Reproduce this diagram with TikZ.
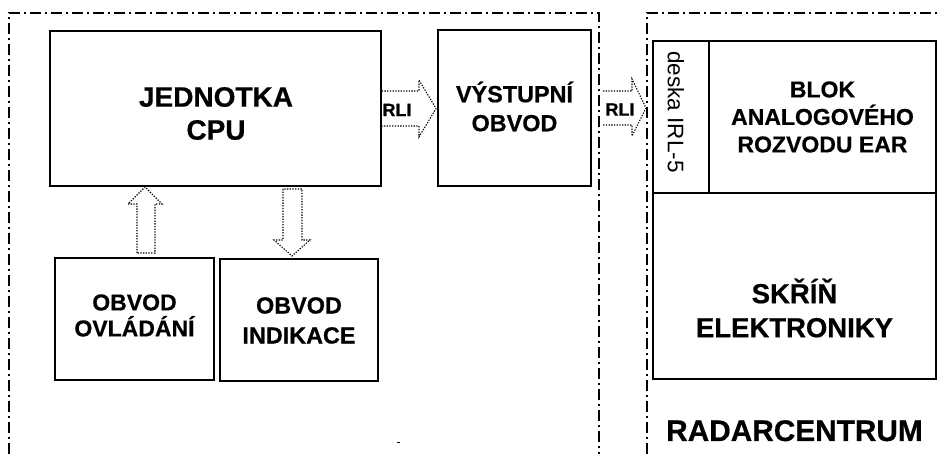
\documentclass[tikz,border=0pt]{standalone}
\usepackage{fontspec}
\setmainfont{Liberation Sans}[BoldFeatures={FakeBold=0.6}]
\usetikzlibrary{calc}
\begin{document}
\begin{tikzpicture}[x=1pt,y=-1pt,
  box/.style={draw, line width=1.5pt, inner sep=0pt},
  frameline/.style={line width=1.6pt, dash pattern=on 11pt off 4pt on 2pt off 4pt},
  barrow/.style={line width=1.1pt, dash pattern=on 1.3pt off 1.4pt, line join=miter},
  lbl/.style={inner sep=0pt, align=center}]
\useasboundingbox (0,0) rectangle (938,454);
\fill[white] (0,0) rectangle (938,454);

% frames
\draw[frameline] (9,454) -- (9,13) -- (599,13) -- (599,454);
\draw[frameline] (647,454) -- (647,13) -- (938,13);

% boxes
\node[box, minimum width=331pt, minimum height=155pt] (cpu) at (215.5,108.5) {};
\node[lbl, font=\fontsize{28}{33}\selectfont\bfseries] (cput) at (216,113.5) {JEDNOTKA\\CPU};

\node[box, minimum width=153pt, minimum height=156pt] (out) at (514.5,108) {};
\node[lbl, font=\fontsize{23.4}{29}\selectfont\bfseries] (outt) at (514.5,106.5) {VÝSTUPNÍ\\OBVOD};

\node[box, minimum width=159pt, minimum height=122pt] (ovl) at (134.5,319) {};
\node[lbl, font=\fontsize{23}{26}\selectfont\bfseries] (ovlt) at (134.5,315.5) {OBVOD\\OVLÁDÁNÍ};

\node[box, minimum width=158pt, minimum height=122pt] (ind) at (299,320) {};
\node[lbl, font=\fontsize{23.4}{30}\selectfont\bfseries] (indt) at (299,320.5) {OBVOD\\INDIKACE};

\node[box, minimum width=56pt, minimum height=152pt] (deska) at (681,117) {};
\node[lbl, rotate=-90, font=\fontsize{22.5}{26}\selectfont] (deskat) at (676,112) {deska IRL-5};

\node[box, minimum width=227pt, minimum height=152pt] (blok) at (822.5,117) {};
\node[lbl, font=\fontsize{23}{27.5}\selectfont\bfseries] (blokt) at (822.5,117) {BLOK\\ANALOGOVÉHO\\ROZVODU EAR};

\node[box, minimum width=283pt, minimum height=186pt] (skrin) at (794.5,286) {};
\node[lbl, font=\fontsize{27.5}{34}\selectfont\bfseries] (skrint) at (794.5,308) {SKŘÍŇ\\ELEKTRONIKY};

\node[lbl, anchor=base, font=\fontsize{29.8}{34}\selectfont\bfseries] (radar) at (794.5,441) {RADARCENTRUM};

% block arrows
\draw[barrow] (cpu.east |- 0,91) -- (419,91) -- (419,80) -- (436,108.5) -- (419,137) -- (419,126) -- (cpu.east |- 0,126);
\node[lbl, font=\fontsize{18}{20}\selectfont\bfseries] (rli1) at (397,110) {RLI};

\draw[barrow] (603,91) -- (632,91) -- (632,79) -- (646,108) -- (632,136) -- (632,125) -- (603,125);
\node[lbl, font=\fontsize{18}{20}\selectfont\bfseries] (rli2) at (620,109.5) {RLI};

\draw[barrow] (137,253) -- (137,204) -- (128,204) -- (145,187) -- (162,204) -- (155,204) -- (155,253) -- cycle;
\draw[barrow] (283,189) -- (283,240) -- (274,240) -- (292,256) -- (310,240) -- (302,240) -- (302,189) -- cycle;

% small mark
\draw[line width=1pt] (397,443) -- (400,443);
\end{tikzpicture}
\end{document}
